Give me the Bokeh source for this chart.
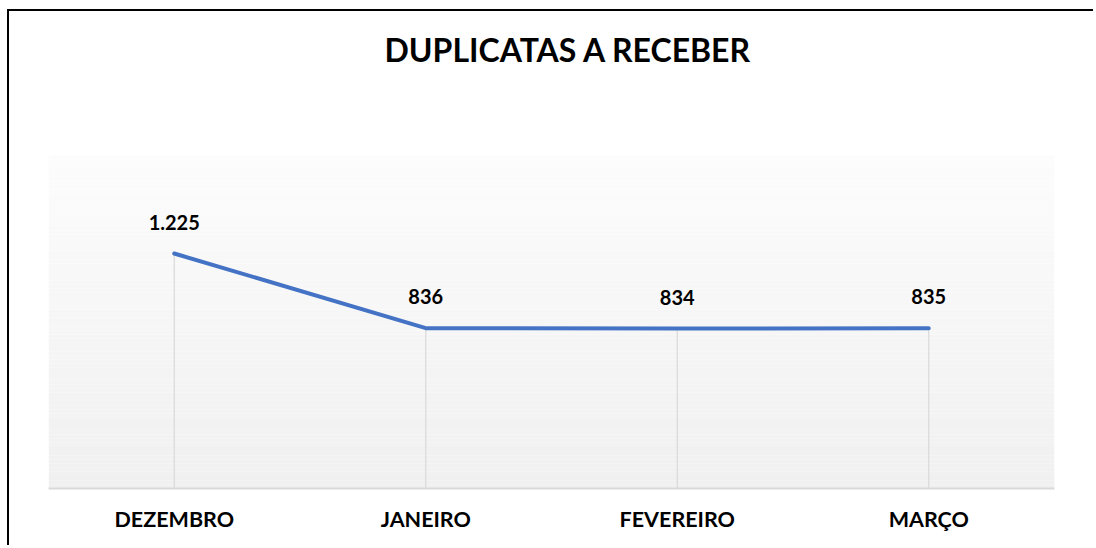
import numpy as np
from bokeh.plotting import figure
from bokeh.models import ColumnDataSource, LabelSet, Title, FactorRange, Range1d
from bokeh.core.properties import value
from bokeh.embed import file_html
from bokeh.resources import INLINE

months = ["DEZEMBRO", "JANEIRO", "FEVEREIRO", "MARÇO"]
values = [1225, 836, 834, 835]
labels = [f"{v:,}".replace(",", ".") for v in values]
title_text = "DUPLICATAS A RECEBER"

Y_MAX = 1736
FONT = "Lato"

p = figure(x_range=FactorRange(*months, range_padding=0), y_range=Range1d(0, Y_MAX),
           width=1086, height=536, output_backend="svg", toolbar_location=None, title=None,
           min_border_left=39, min_border_right=41, min_border_top=144, min_border_bottom=59)
p.styles = {"margin-left": "7px", "margin-top": "9px", "overflow": "hidden",
            "border-left": "2px solid #000000", "border-top": "2px solid #000000"}

# spacer between title and plot area, then the chart title
p.add_layout(Title(text=".", text_font_size="1px", text_color="#ffffff", standoff=84), "above")
p.add_layout(Title(text=title_text, align="left", offset=336, standoff=0,
                   text_font=FONT, text_font_style="bold", text_font_size="32px",
                   text_color="#000000"), "above")

p.outline_line_color = None
p.background_fill_color = "white"
p.border_fill_color = "white"
p.xgrid.visible = False
p.ygrid.visible = False
p.yaxis.visible = False

# gradient background (styling bands)
n = 80
edges = np.linspace(0, Y_MAX, n + 1)
cols = []
for i in range(n):
    t = (i + 0.5) / n
    g = int(round(240 + (252 - 240) * t))
    cols.append("#%02x%02x%02x" % (g, g, g))
p.quad(left=0, right=len(months), bottom=edges[:-1], top=edges[1:], fill_color=cols,
       line_color=None, level="underlay")

src = ColumnDataSource(dict(x=months, y=values, zero=[0] * len(values), lab=labels))
p.segment(x0="x", y0="zero", x1="x", y1="y", source=src, line_color="#d9d9d9", line_width=1.2)
p.line(x="x", y="y", source=src, line_color="#4472C4", line_width=4, line_cap="round")

ls = LabelSet(x="x", y="y", text="lab", source=src, y_offset=24, text_align="center",
              text_baseline="alphabetic", text_font=value(FONT), text_font_style="bold",
              text_font_size="20px", text_color="#000000")
p.add_layout(ls)

ax = p.xaxis[0]
ax.axis_line_color = "#d9d9d9"
ax.axis_line_width = 2
ax.major_tick_line_color = None
ax.minor_tick_line_color = None
ax.major_label_text_font = FONT
ax.major_label_text_font_style = "bold"
ax.major_label_text_font_size = "21.5px"
ax.major_label_text_color = "#000000"
ax.major_label_standoff = 11

open("out.html", "w").write(file_html(p, INLINE))
